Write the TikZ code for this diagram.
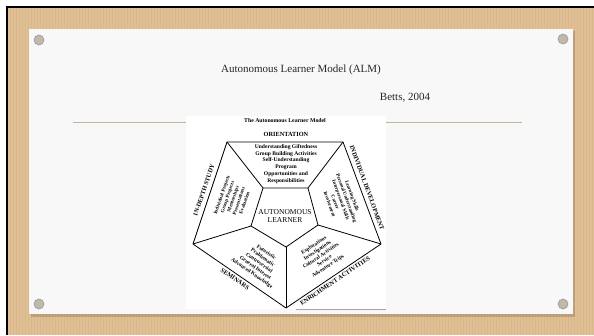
\documentclass[tikz,border=0pt]{standalone}
\usepackage{fontspec}
\setmainfont{Liberation Serif}
\usetikzlibrary{calc}
\definecolor{wood}{RGB}{223,191,147}
\definecolor{woodline}{RGB}{206,170,124}
\definecolor{slide}{RGB}{248,248,248}
\definecolor{rulecol}{RGB}{198,180,152}

\begin{document}
\begin{tikzpicture}[x=1pt,y=-1pt,
  lab/.style={font=\fontsize{6.3}{7}\selectfont\bfseries,inner sep=0pt},
  box/.style={font=\fontsize{5}{6}\selectfont\bfseries,align=center,inner sep=0pt},
  lowbox/.style={font=\fontsize{5.3}{6.3}\selectfont\bfseries,align=center,inner sep=0pt},
  screw/.style={circle,fill=gray!55,draw=gray!80,line width=.6pt,minimum size=10pt,inner sep=0pt,
    path picture={\fill[wood!85!gray] (path picture bounding box.center) circle (2.4pt);}}]
  \useasboundingbox (0,0) rectangle (594,335);
  \fill[white] (0,0) rectangle (594,335);
  \fill[black] (5.5,5.5) rectangle (594,335);
  \fill[wood] (8,8) rectangle (594,335);
  \foreach \x in {10,13,...,592}
    \draw[woodline,line width=.6pt,opacity=.3] (\x,8) -- (\x,335);
  \fill[black,opacity=.15] (31,31) rectangle (575,316.5);
  \fill[slide] (29,29) rectangle (573,314);
  \node[screw] (s1) at (39,40) {};
  \node[screw] (s2) at (563,39) {};
  \node[screw] (s3) at (39,304) {};
  \node[screw] (s4) at (563,304) {};
  \node[text=black!85] (title) at (301,70) {\fontsize{11}{12}\selectfont Autonomous Learner Model (ALM)};
  \node[text=black!85] (year) at (405,98) {\fontsize{11}{12}\selectfont Betts, 2004};
  \coordinate (l1) at (73,122);
  \coordinate (l2) at (522,122);
  \draw[rulecol,line width=1pt] (l1) -- (l2);
  \fill[white] (186,116) rectangle (386,309);
  \coordinate (f1) at (296,309);
  \coordinate (f2) at (386,309);
  \draw[gray!70,line width=.6pt] (f1) -- (f2);
  \node[font=\fontsize{5.8}{6}\selectfont\bfseries,inner sep=0pt] (hdr) at (285,121) {The Autonomous Learner Model};
  \coordinate (A) at (227,142);
  \coordinate (B) at (343,142);
  \coordinate (C) at (381,244);
  \coordinate (D) at (286,308);
  \coordinate (E) at (193,244);
  \coordinate (a) at (263,188);
  \coordinate (b) at (308,188);
  \coordinate (c) at (318,225);
  \coordinate (d) at (286,247);
  \coordinate (e) at (251,226);
  \draw[line width=.8pt] (A) -- (B) -- (C) -- (D) -- (E) -- cycle;
  \draw[line width=.8pt] (a) -- (b) -- (c) -- (d) -- (e) -- cycle;
  \draw[line width=.8pt] (A) -- (a);
  \draw[line width=.8pt] (B) -- (b);
  \draw[line width=.8pt] (C) -- (c);
  \draw[line width=.8pt] (D) -- (d);
  \draw[line width=.8pt] (E) -- (e);
  \node[lab] (orient) at (286,134) {ORIENTATION};
  \node[lab,rotate=71] (study) at (204,190) {IN-DEPTH STUDY};
  \node[lab,rotate=-70] (develop) at (367,188) {INDIVIDUAL DEVELOPMENT};
  \node[lab,rotate=-35] (seminar) at (235,279) {SEMINARS};
  \node[lab,rotate=34] (enrich) at (335,281) {ENRICHMENT ACTIVITIES};
  \node[font=\fontsize{5.6}{6.8}\selectfont\bfseries,align=center,inner sep=0pt] (topbox) at (286,164) {Understanding Giftedness\\Group Building Activities\\Self-Understanding\\Program\\Opportunities and\\Responsibilities};
  \node[box,rotate=71] (leftbox) at (233,199) {Individual Projects\\Group Projects\\Mentorships\\Presentations\\Evaluation};
  \node[box,rotate=-70] (rightbox) at (341,200) {Learning Skills\\Personal Understanding\\Interpersonal Skills\\Career\\Involvement};
  \node[lowbox,rotate=-35] (semibox) at (259,263) {Futuristic\\Problematic\\Controversial\\General Interest\\Advanced Knowledge};
  \node[lowbox,rotate=34] (enribox) at (321,256) {Explorations\\Investigations\\Cultural Activities\\Service\\Adventure Trips};
  \node[font=\fontsize{7.5}{8}\selectfont,align=center,inner sep=0pt] (centre) at (285,216) {AUTONOMOUS\\LEARNER};
\end{tikzpicture}
\end{document}
